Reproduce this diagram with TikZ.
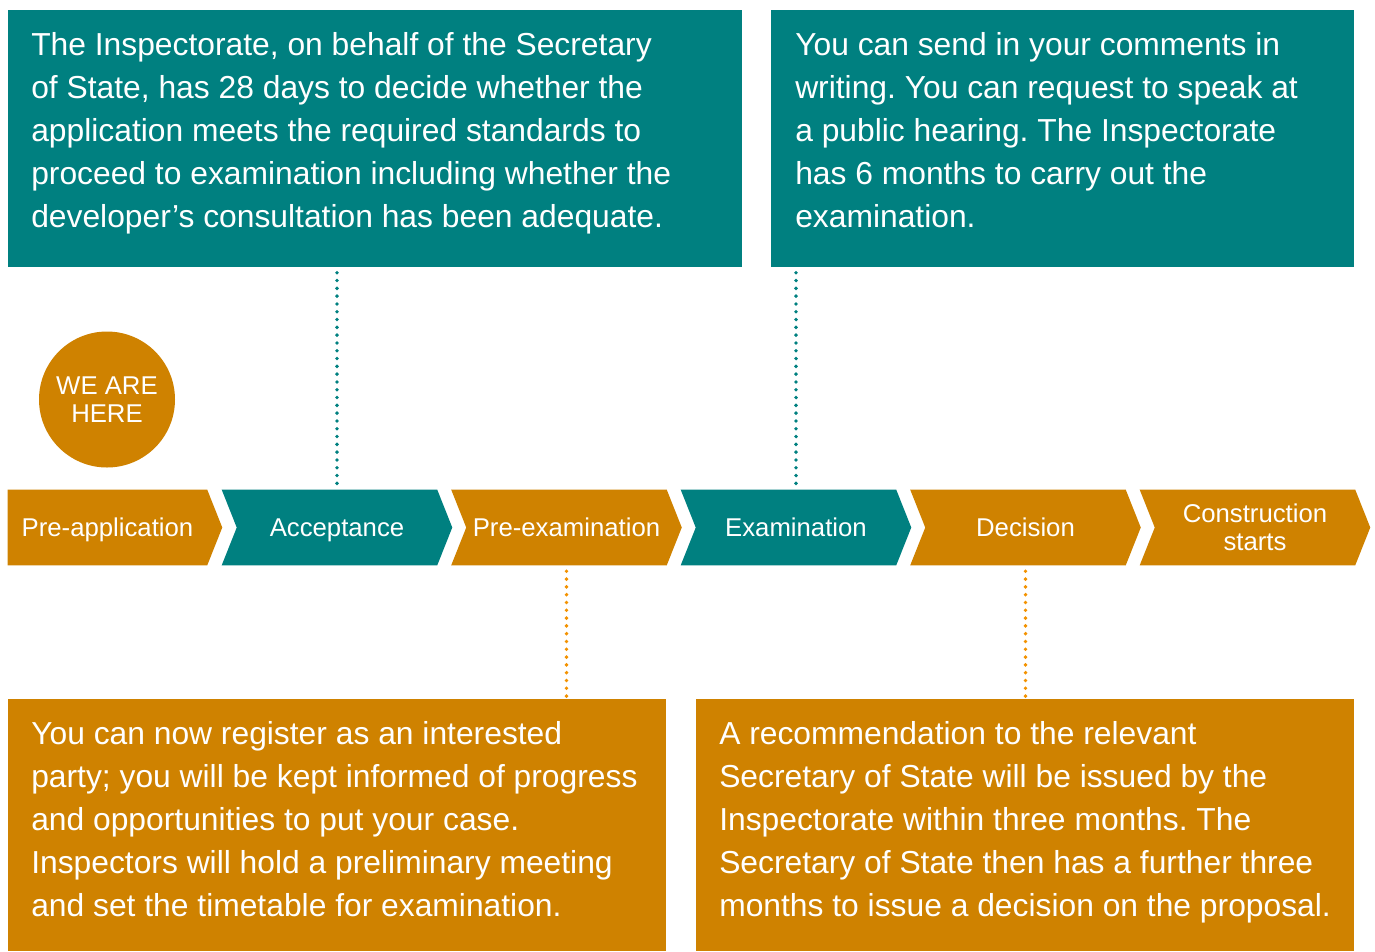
\documentclass[tikz,border=0pt]{standalone}
\usepackage{fontspec}
\setmainfont{Liberation Sans}
\usetikzlibrary{backgrounds}
\definecolor{tealc}{HTML}{008080}
\definecolor{orangec}{HTML}{CF8200}
\definecolor{orangedot}{HTML}{F39200}
\newcommand\chevfont{\fontsize{19.3pt}{21.2pt}\selectfont}
\newcommand\boxfont{\fontsize{23.85pt}{32.25pt}\selectfont}
\newcommand\firstline{\rule{0pt}{0.76em}}
\frenchspacing
\tikzset{
  chev/.style={rectangle, inner sep=0pt, minimum width=172.5pt, minimum height=56.25pt,
    text=white, font=\chevfont, align=center},
  chevone/.style={chev, text height=13.9pt, text depth=0pt},
  infobox/.style={rectangle, inner sep=0pt, fill=#1},
  infotext/.style={anchor=north west, inner sep=0pt, text=white, font=\boxfont, align=left},
  tealdots/.style={draw=tealc, line width=2.9pt, line cap=round, dash pattern=on 0pt off 5.85pt},
  orangedots/.style={draw=orangedot, line width=2.9pt, line cap=round, dash pattern=on 0pt off 5.85pt},
  herecircle/.style={circle, fill=orangec, minimum size=102pt, inner sep=0pt, text=white,
    font=\chevfont, align=center}
}
\newcommand\chevfill[2]{%
  \fill[#2] (#1.north west) -- ([xshift=-11.25pt]#1.north east) -- (#1.east)
    -- ([xshift=-11.25pt]#1.south east) -- (#1.south west) -- ([xshift=11.25pt]#1.west) -- cycle;}
\begin{document}
\begin{tikzpicture}[x=0.75pt,y=-0.75pt]
\useasboundingbox (0,0) rectangle (1375,951);

% boxes
\node[infobox=tealc, minimum width=550.5pt, minimum height=193.1pt] (boxA) at (375,138.75) {};
\node[infobox=tealc, minimum width=437.25pt, minimum height=193.1pt] (boxB) at (1062.5,138.75) {};
\node[infobox=orangec, minimum width=493.5pt, minimum height=189pt] (boxC) at (337,825) {};
\node[infobox=orangec, minimum width=493.5pt, minimum height=189pt] (boxD) at (1025,825) {};

\node[infotext] (tA) at (31,31.5) {\firstline The Inspectorate, on behalf of the Secretary\\
of State, has 28 days to decide whether the\\
application meets the required standards to\\
proceed to examination including whether the\\
developer’s consultation has been adequate.};
\node[infotext] (tB) at (795,31.5) {\firstline You can send in your comments in\\
writing. You can request to speak at\\
a public hearing. The Inspectorate\\
has 6 months to carry out the\\
examination.};
\node[infotext] (tC) at (31,720.5) {\firstline You can now register as an interested\\
party; you will be kept informed of progress\\
and opportunities to put your case.\\
Inspectors will hold a preliminary meeting\\
and set the timetable for examination.};
\node[infotext] (tD) at (719,720.5) {\firstline A recommendation to the relevant\\
Secretary of State will be issued by the\\
Inspectorate within three months. The\\
Secretary of State then has a further three\\
months to issue a decision on the proposal.};

% chevrons
\node[chevone, minimum width=160.5pt] (preapp) at (115,527.5) {Pre-application\hspace*{11.25pt}};
\node[chevone] (acc) at (337,527.5) {Acceptance};
\node[chevone] (preex) at (566.5,527.5) {Pre-examination};
\node[chevone] (exam) at (796,527.5) {Examination};
\node[chevone] (dec) at (1025.5,527.5) {Decision};
\node[chev] (cons) at (1255,527.5) {Construction\\starts};
\begin{scope}[on background layer]
  \fill[orangec] (preapp.north west) -- ([xshift=-11.25pt]preapp.north east) -- (preapp.east)
    -- ([xshift=-11.25pt]preapp.south east) -- (preapp.south west) -- cycle;
  \chevfill{acc}{tealc}
  \chevfill{preex}{orangec}
  \chevfill{exam}{tealc}
  \chevfill{dec}{orangec}
  \chevfill{cons}{orangec}
\end{scope}

% we are here
\node[herecircle] (here) at (107,399.5) {WE ARE\\HERE};

% connectors
\draw[tealdots, shorten <=3.75pt, shorten >=3pt] (acc.north |- boxA.south) -- (acc.north);
\draw[tealdots, shorten <=3.75pt, shorten >=3pt] (exam.north |- boxB.south) -- (exam.north);
\draw[orangedots, shorten <=4.5pt] (preex.south) -- (preex.south |- boxC.north);
\draw[orangedots, shorten <=4.5pt] (dec.south) -- (dec.south |- boxD.north);
\end{tikzpicture}
\end{document}
